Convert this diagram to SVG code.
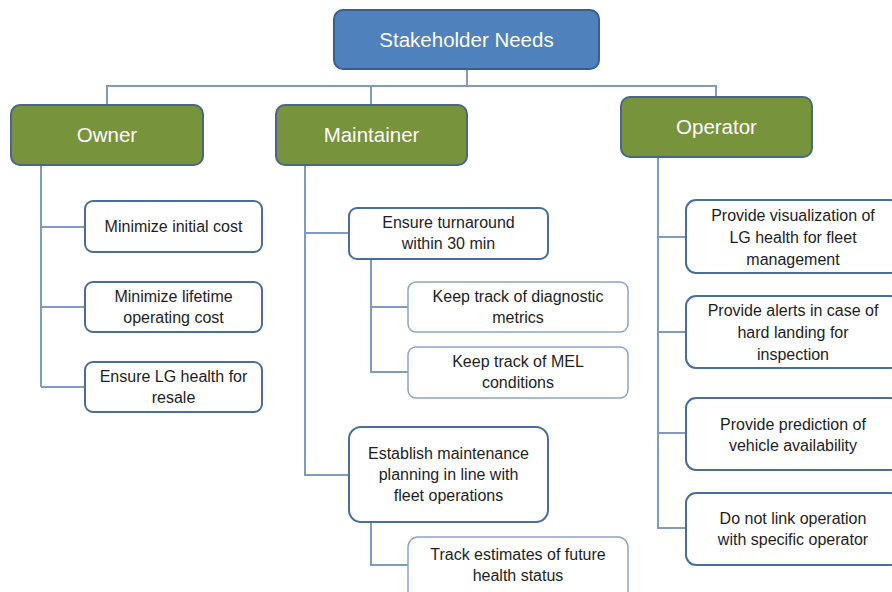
<svg xmlns="http://www.w3.org/2000/svg" width="892" height="592" viewBox="0 0 892 592">
<style>
.top{fill:#4f81bd;stroke:#3b5f8c;stroke-width:2}
.grp{fill:#77933c;stroke:#4a6787;stroke-width:2}
.leaf{fill:#fff;stroke:#4a6e9c;stroke-width:2}
.sub{fill:#fff;stroke:#8aa5c8;stroke-width:1.5}
.hd{font-family:"Liberation Sans",Arial,sans-serif;font-size:20.5px;fill:#fff;text-anchor:middle}
.tx{font-family:"Liberation Sans",Arial,sans-serif;font-size:16px;fill:#1e1e1e;text-anchor:middle}
.con{fill:none;stroke:#7f9bbf;stroke-width:2}
</style>
<rect width="892" height="592" fill="#fff"/>
<g id="connectors">
<path class="con" d="M467 69V86M107 105V86H716V97M371 86V105"/>
<path class="con" d="M41 165V387M41 227H85M41 307H85M41 387H85"/>
<path class="con" d="M305 158V475H349M305 233H349"/>
<path class="con" d="M371 259V372H408M371 307H408"/>
<path class="con" d="M371 522V565H408"/>
<path class="con" d="M658 158V528H686M658 237H686M658 332H686M658 433H686"/>
</g>
<g id="stakeholder-needs"><rect class="top" x="334" y="10" width="265" height="59" rx="9"/><text class="hd" x="466.5" y="47">Stakeholder Needs</text></g>
<g id="owner"><rect class="grp" x="11" y="105" width="192" height="60" rx="9"/><text class="hd" x="107" y="142">Owner</text></g>
<g id="maintainer"><rect class="grp" x="276" y="105" width="191" height="60" rx="9"/><text class="hd" x="371.5" y="142">Maintainer</text></g>
<g id="operator"><rect class="grp" x="621" y="97" width="191" height="60" rx="9"/><text class="hd" x="716.5" y="134">Operator</text></g>
<g id="o1"><rect class="leaf" x="85" y="201" width="177" height="51" rx="8"/><text class="tx" x="173.5" y="232">Minimize initial cost</text></g>
<g id="o2"><rect class="leaf" x="85" y="282" width="177" height="50" rx="8"/><text class="tx" x="173.5" y="302">Minimize lifetime</text><text class="tx" x="173.5" y="323">operating cost</text></g>
<g id="o3"><rect class="leaf" x="85" y="362" width="177" height="50" rx="8"/><text class="tx" x="173.5" y="382">Ensure LG health for</text><text class="tx" x="173.5" y="403">resale</text></g>
<g id="m1"><rect class="leaf" x="349" y="208" width="199" height="51" rx="8"/><text class="tx" x="448.5" y="228">Ensure turnaround</text><text class="tx" x="448.5" y="249">within 30 min</text></g>
<g id="m1a"><rect class="sub" x="408" y="282" width="220" height="50" rx="8"/><text class="tx" x="518" y="302">Keep track of diagnostic</text><text class="tx" x="518" y="323">metrics</text></g>
<g id="m1b"><rect class="sub" x="408" y="347" width="220" height="51" rx="8"/><text class="tx" x="518" y="367">Keep track of MEL</text><text class="tx" x="518" y="388">conditions</text></g>
<g id="m2"><rect class="leaf" x="349" y="427" width="199" height="95" rx="12"/><text class="tx" x="448.5" y="459">Establish maintenance</text><text class="tx" x="448.5" y="480">planning in line with</text><text class="tx" x="448.5" y="501">fleet operations</text></g>
<g id="m2a"><rect class="sub" x="408" y="537" width="220" height="70" rx="10"/><text class="tx" x="518" y="560">Track estimates of future</text><text class="tx" x="518" y="581">health status</text></g>
<g id="p1"><rect class="leaf" x="686" y="200" width="214" height="73" rx="10"/><text class="tx" x="793" y="221">Provide visualization of</text><text class="tx" x="793" y="243">LG health for fleet</text><text class="tx" x="793" y="265">management</text></g>
<g id="p2"><rect class="leaf" x="686" y="296" width="214" height="72" rx="10"/><text class="tx" x="793" y="316">Provide alerts in case of</text><text class="tx" x="793" y="338">hard landing for</text><text class="tx" x="793" y="360">inspection</text></g>
<g id="p3"><rect class="leaf" x="686" y="398" width="214" height="72" rx="10"/><text class="tx" x="793" y="430">Provide prediction of</text><text class="tx" x="793" y="451">vehicle availability</text></g>
<g id="p4"><rect class="leaf" x="686" y="493" width="214" height="72" rx="10"/><text class="tx" x="793" y="524">Do not link operation</text><text class="tx" x="793" y="545">with specific operator</text></g>
</svg>
